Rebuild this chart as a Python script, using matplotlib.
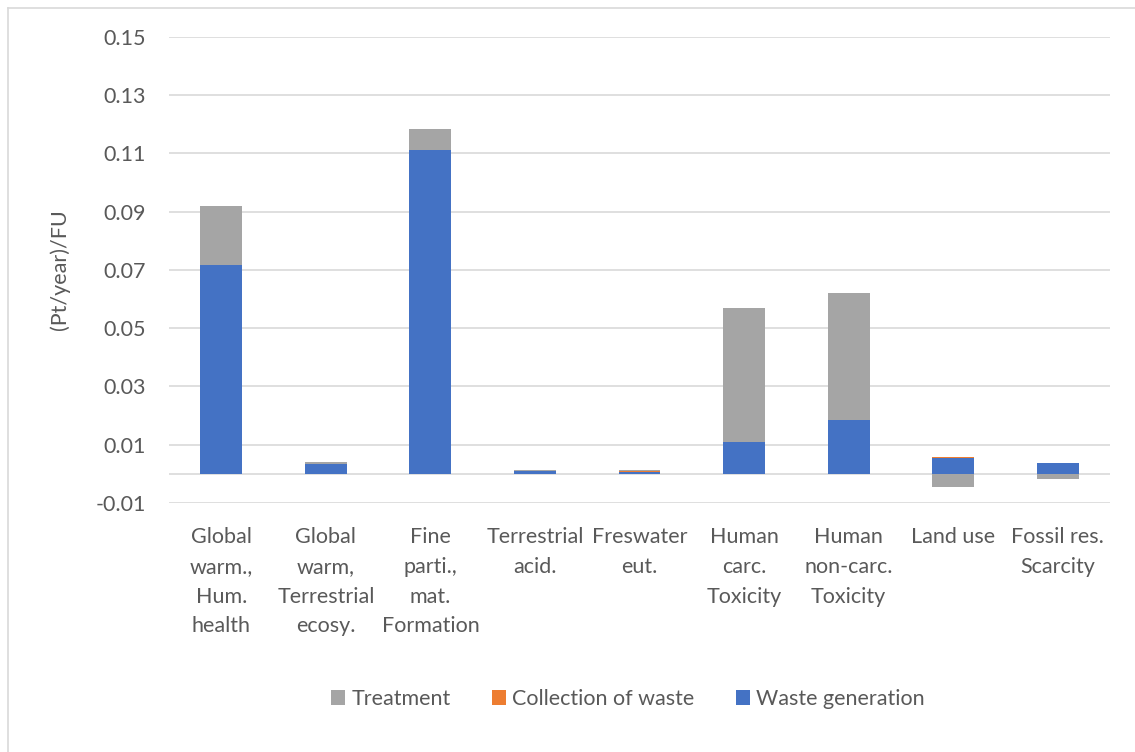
import numpy as np
import matplotlib
matplotlib.use("Agg")
from matplotlib import pyplot as plt
from matplotlib.lines import Line2D

categories = ["Global\nwarm.,\nHum.\nhealth", "Global\nwarm,\nTerrestrial\necosy.",
              "Fine\nparti.,\nmat.\nFormation", "Terrestrial\nacid.", "Freswater\neut.",
              "Human\ncarc.\nToxicity", "Human\nnon-carc.\nToxicity", "Land use",
              "Fossil res.\nScarcity"]
waste_generation = [0.0717, 0.0033, 0.1111, 0.0011, 0.0008, 0.0108, 0.0185, 0.0056, 0.0037]
collection = [0.00005, 0.00002, 0.00005, 0.00001, 0.00001, 0.00003, 0.00003, 0.00002, 0.00002]
treatment = [0.0200, 0.0009, 0.0073, 0.0002, 0.0006, 0.0462, 0.0435, -0.0045, -0.0018]
yticks = [-0.01, 0.01, 0.03, 0.05, 0.07, 0.09, 0.11, 0.13, 0.15]

BLUE = '#4472C4'
ORANGE = '#ED7D31'
GRAY = '#A5A5A5'
TXT = '#595959'
FS = 15.5

plt.rcParams['font.family'] = ['Lato', 'DejaVu Sans']

fig = plt.figure(figsize=(11.35, 7.52), dpi=100)
ax = fig.add_axes([169 / 1135, 1 - 503 / 752, (1110 - 169) / 1135, (503 - 36.7) / 752])

x = np.arange(len(categories))
w = 0.4

# excel style stacking: positives go up from 0, negatives go down from 0
pos_base = np.zeros(len(x))
neg_base = np.zeros(len(x))
for vals, col, lab in [(waste_generation, BLUE, 'Waste generation'),
                       (collection, ORANGE, 'Collection of waste'),
                       (treatment, GRAY, 'Treatment')]:
    v = np.array(vals)
    base = np.where(v >= 0, pos_base, neg_base)
    ax.bar(x, v, w, bottom=base, color=col, label=lab, zorder=3)
    pos_base = pos_base + np.where(v >= 0, v, 0)
    neg_base = neg_base + np.where(v < 0, v, 0)

ax.set_xlim(-0.5, len(x) - 0.5)
ax.set_ylim(-0.01, 0.15)
ax.set_yticks(yticks)
ax.set_yticklabels([f'{t:.2f}' for t in yticks])
ax.grid(axis='y', color='#D9D9D9', linewidth=1.2, zorder=0)
ax.axhline(0, color='#D9D9D9', linewidth=1.2, zorder=1)
ax.set_xticks(x)
ax.set_xticklabels(categories, linespacing=1.6)
ax.tick_params(axis='both', length=0, labelsize=FS, colors=TXT)
ax.tick_params(axis='y', pad=16.5)
ax.tick_params(axis='x', pad=17.5)
for s in ax.spines.values():
    s.set_visible(False)

ax.set_ylabel('(Pt/year)/FU', fontsize=FS, color=TXT)
ax.yaxis.set_label_coords(-0.105, 0.5)

h, l = ax.get_legend_handles_labels()
order = [2, 1, 0]
fig.legend([h[i] for i in order], [l[i] for i in order], loc='center', ncol=3,
           bbox_to_anchor=(628 / 1135, 1 - 699 / 752), frameon=False, fontsize=FS,
           labelcolor=TXT, handlelength=0.65, handleheight=0.65, handletextpad=0.3,
           columnspacing=1.9)

# chart border (only left and top edges fall inside the crop)
fig.add_artist(Line2D([8 / 1135, 8 / 1135], [0, 1 - 8 / 752], color='#D9D9D9', lw=1.2))
fig.add_artist(Line2D([8 / 1135, 1], [1 - 8 / 752, 1 - 8 / 752], color='#D9D9D9', lw=1.2))

fig.savefig('out.png', dpi=100, facecolor='white')
